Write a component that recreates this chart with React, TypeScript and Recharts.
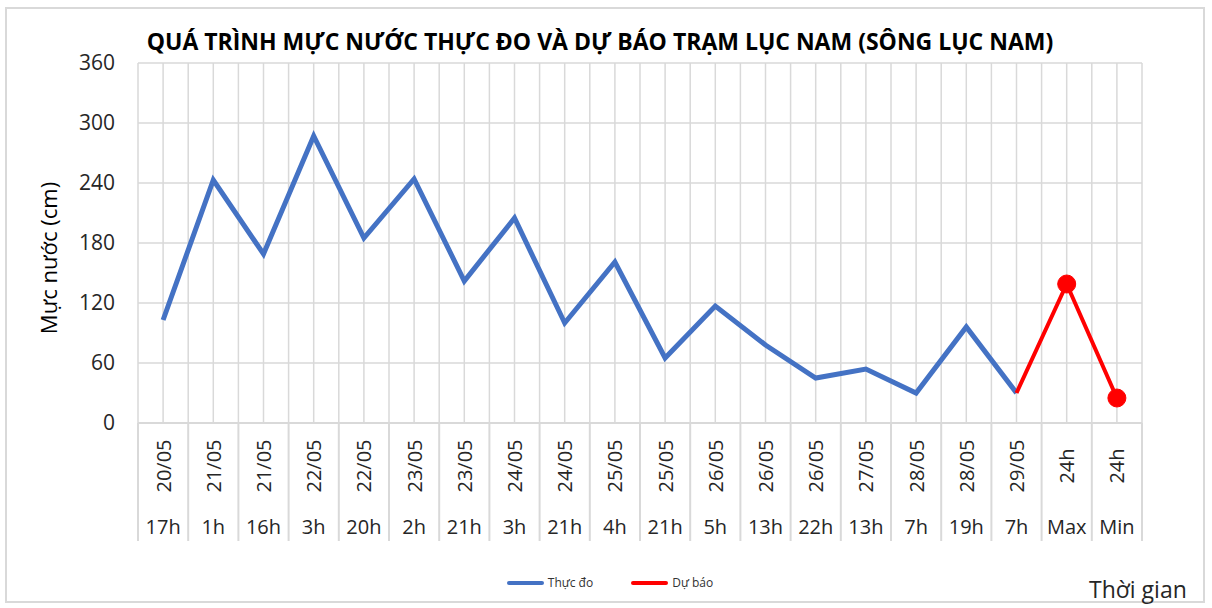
import React from 'react';
import {
  LineChart,
  Line,
  XAxis,
  YAxis,
  CartesianGrid,
  Legend,
} from 'recharts';

const dates = ['20/05', '21/05', '21/05', '22/05', '22/05', '23/05', '23/05', '24/05', '24/05', '25/05', '25/05', '26/05', '26/05', '26/05', '27/05', '28/05', '28/05', '29/05', '24h', '24h'];
const hours = ['17h', '1h', '16h', '3h', '20h', '2h', '21h', '3h', '21h', '4h', '21h', '5h', '13h', '22h', '13h', '7h', '19h', '7h', 'Max', 'Min'];
const observed = [103, 243, 169, 287, 185, 244, 142, 205, 100, 161, 65, 117, 78, 45, 54, 30, 96, 30, null, null];
const forecast = [null, null, null, null, null, null, null, null, null, null, null, null, null, null, null, null, null, 30, 139, 25];
const yTicks = [0, 60, 120, 180, 240, 300, 360];

const data = hours.map((h, i) => ({
  hour: h,
  date: dates[i],
  observed: observed[i],
  forecast: forecast[i],
}));

const W = 1212;
const H = 608;
const PLOT_LEFT = 138;
const PLOT_RIGHT = 1142;
const PLOT_TOP = 63;
const PLOT_BOTTOM = 423;
const BAND = (PLOT_RIGHT - PLOT_LEFT) / hours.length;
const FONT = '"Open Sans", "Noto Sans", sans-serif';

const gridX = Array.from({ length: hours.length * 2 + 1 }, (_, k) => PLOT_LEFT + (k * BAND) / 2);

const CategoryTick = (props: any) => {
  const { x, payload } = props;
  const i = payload.index;
  const left = x - BAND / 2;
  return (
    <g>
      <line x1={left} y1={PLOT_BOTTOM} x2={left} y2={541} stroke="#d9d9d9" strokeWidth={2} />
      {i === hours.length - 1 && (
        <line x1={left + BAND} y1={PLOT_BOTTOM} x2={left + BAND} y2={541} stroke="#d9d9d9" strokeWidth={2} />
      )}
      <text
        x={x}
        y={466}
        transform={`rotate(-90 ${x} 466)`}
        textAnchor="middle"
        dominantBaseline="central"
        fill="#262626"
        style={{ fontSize: 20, fontFamily: FONT }}
      >
        {dates[i]}
      </text>
      <text
        x={x}
        y={526}
        textAnchor="middle"
        dominantBaseline="central"
        fill="#262626"
        style={{ fontSize: 20, fontFamily: FONT }}
      >
        {hours[i]}
      </text>
    </g>
  );
};

const ForecastDot = (props: any) => {
  const { cx, cy, index } = props;
  if (index < hours.length - 2 || cy == null) return <g key={`d-${index}`} />;
  return <circle key={`d-${index}`} cx={cx} cy={cy} r={9} fill="#ff0000" stroke="#ff0000" />;
};

const YLabel = () => (
  <text
    x={48}
    y={258}
    transform="rotate(-90 48 258)"
    textAnchor="middle"
    dominantBaseline="central"
    fill="#000"
    style={{ fontSize: 22, fontFamily: FONT }}
  >
    Mực nước (cm)
  </text>
);

const renderLegend = () => (
  <div style={{ display: 'flex', justifyContent: 'center', gap: 38, paddingLeft: 8, fontFamily: FONT, fontSize: 12, color: '#333' }}>
    <span style={{ display: 'flex', alignItems: 'center' }}>
      <span style={{ width: 37, height: 4, background: '#4472c4', borderRadius: 2, marginRight: 4 }} />
      Thực đo
    </span>
    <span style={{ display: 'flex', alignItems: 'center' }}>
      <span style={{ width: 37, height: 4, background: '#ff0000', borderRadius: 2, marginRight: 4 }} />
      Dự báo
    </span>
  </div>
);

const App: React.FC = () => {
  return (
    <div style={{ position: 'absolute', left: 0, top: 0, width: W, height: H, background: '#fff', fontFamily: FONT }}>
      <div
        style={{
          position: 'absolute',
          left: 5,
          top: 7,
          width: W - 12,
          height: H - 12,
          border: '2px solid #d9d9d9',
          boxSizing: 'border-box',
        }}
      />
      <div
        style={{
          position: 'absolute',
          left: 0,
          top: 25,
          width: 1200,
          textAlign: 'center',
          fontWeight: 700,
          fontSize: 23,
          color: '#000',
        }}
      >
        QUÁ TRÌNH MỰC NƯỚC THỰC ĐO VÀ DỰ BÁO TRẠM LỤC NAM (SÔNG LỤC NAM)
      </div>
      <div style={{ position: 'absolute', left: 1089, top: 573, fontSize: 23, color: '#262626' }}>Thời gian</div>
      <LineChart
        width={W}
        height={H}
        data={data}
        margin={{ top: PLOT_TOP, right: W - PLOT_RIGHT, bottom: 20, left: PLOT_LEFT - 60 }}
        style={{ position: 'absolute', left: 0, top: 0 }}
      >
        <CartesianGrid stroke="#d9d9d9" strokeWidth={1.5} verticalCoordinatesGenerator={() => gridX} />
        <XAxis
          dataKey="hour"
          interval={0}
          tickLine={false}
          axisLine={{ stroke: '#d9d9d9', strokeWidth: 2 }}
          padding={{ left: BAND / 2, right: BAND / 2 }}
          height={121}
          tick={<CategoryTick />}
        />
        <YAxis
          width={60}
          domain={[0, 360]}
          ticks={yTicks}
          interval={0}
          axisLine={false}
          tickLine={false}
          tickMargin={17}
          tick={{ fontSize: 21, fill: '#262626', fontFamily: FONT }}
          label={<YLabel />}
        />
        <Legend
          verticalAlign="bottom"
          height={44}
          content={renderLegend}
          wrapperStyle={{ left: 0, width: 1212, top: 574, bottom: 'auto' }}
        />
        <Line
          name="Thực đo"
          dataKey="observed"
          stroke="#4472c4"
          strokeWidth={5}
          dot={false}
          activeDot={false}
          connectNulls={false}
          isAnimationActive={false}
        />
        <Line
          name="Dự báo"
          dataKey="forecast"
          stroke="#ff0000"
          strokeWidth={4}
          dot={ForecastDot}
          activeDot={false}
          connectNulls={false}
          isAnimationActive={false}
        />
      </LineChart>
    </div>
  );
};

export default App;
